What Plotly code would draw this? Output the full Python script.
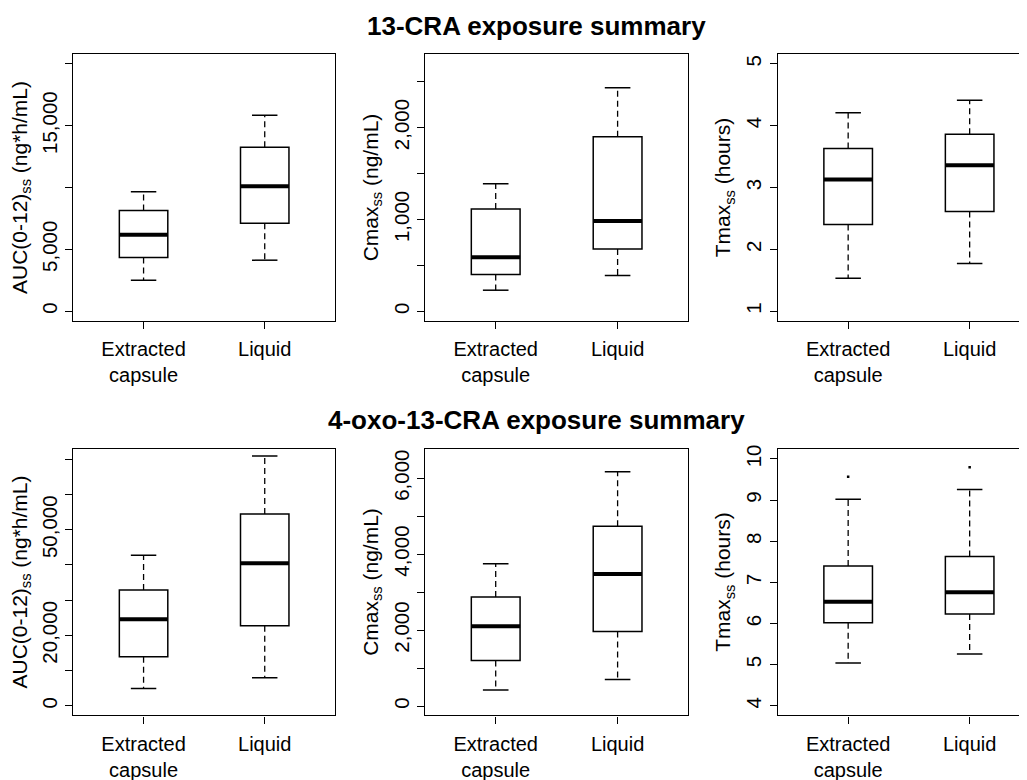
import plotly.graph_objects as go

# ---------------- data ----------------
CATEGORIES = ["Extracted<br>capsule", "Liquid"]
POSITIONS = [1, 2]

# 13-CRA
CRA_AUC_LOW = [2490, 4120]
CRA_AUC_Q1 = [4340, 7100]
CRA_AUC_MED = [6180, 10110]
CRA_AUC_Q3 = [8130, 13250]
CRA_AUC_HIGH = [9650, 15850]

CRA_CMAX_LOW = [231, 391]
CRA_CMAX_Q1 = [401, 680]
CRA_CMAX_MED = [590, 984]
CRA_CMAX_Q3 = [1114, 1899]
CRA_CMAX_HIGH = [1389, 2434]

CRA_TMAX_LOW = [1.53, 1.77]
CRA_TMAX_Q1 = [2.40, 2.61]
CRA_TMAX_MED = [3.13, 3.36]
CRA_TMAX_Q3 = [3.63, 3.86]
CRA_TMAX_HIGH = [4.21, 4.41]

# 4-oxo-13-CRA
OXO_AUC_LOW = [4920, 7950]
OXO_AUC_Q1 = [13900, 22700]
OXO_AUC_MED = [24600, 40500]
OXO_AUC_Q3 = [32900, 54500]
OXO_AUC_HIGH = [42760, 70960]

OXO_CMAX_LOW = [420, 700]
OXO_CMAX_Q1 = [1200, 1961]
OXO_CMAX_MED = [2102, 3476]
OXO_CMAX_Q3 = [2872, 4737]
OXO_CMAX_HIGH = [3748, 6173]

OXO_TMAX_LOW = [5.04, 5.26]
OXO_TMAX_Q1 = [6.02, 6.23]
OXO_TMAX_MED = [6.53, 6.76]
OXO_TMAX_Q3 = [7.40, 7.63]
OXO_TMAX_HIGH = [9.02, 9.26]
OXO_TMAX_OUTLIERS = [[9.57], [9.80]]

# y tick labels
AUC_CRA_TICKS = [0, 5000, 10000, 15000, 20000]
AUC_CRA_TEXT = ["0", "5,000", "", "15,000", ""]
CMAX_CRA_TICKS = [0, 500, 1000, 1500, 2000, 2500]
CMAX_CRA_TEXT = ["0", "", "1,000", "", "2,000", ""]
TMAX_CRA_TICKS = [1, 2, 3, 4, 5]
TMAX_CRA_TEXT = ["1", "2", "3", "4", "5"]
AUC_OXO_TICKS = [0, 10000, 20000, 30000, 40000, 50000, 60000, 70000]
AUC_OXO_TEXT = ["0", "", "20,000", "", "", "50,000", "", ""]
CMAX_OXO_TICKS = [0, 1000, 2000, 3000, 4000, 5000, 6000]
CMAX_OXO_TEXT = ["0", "", "2,000", "", "4,000", "", "6,000"]
TMAX_OXO_TICKS = [4, 5, 6, 7, 8, 9, 10]
TMAX_OXO_TEXT = ["4", "5", "6", "7", "8", "9", "10"]

AUC_TITLE = "AUC(0-12)<sub>ss</sub> (ng*h/mL)"
CMAX_TITLE = "Cmax<sub>ss</sub> (ng/mL)"
TMAX_TITLE = "Tmax<sub>ss</sub> (hours)"

TITLE_TOP = "<b>13-CRA exposure summary</b>"
TITLE_BOTTOM = "<b>4-oxo-13-CRA exposure summary</b>"

# ---------------- styling / layout ----------------
W, H = 1027, 780
OFF = 8  # page body margin of the html page
FONT = "Liberation Sans, Arial, sans-serif"
BOX_W = 0.4
CAP_HALF = 0.105

panels = [
    dict(low=CRA_AUC_LOW, q1=CRA_AUC_Q1, med=CRA_AUC_MED, q3=CRA_AUC_Q3, high=CRA_AUC_HIGH, out=None,
         ticks=AUC_CRA_TICKS, text=AUC_CRA_TEXT, title=AUC_TITLE, yr=[-800, 20800],
         xpx=(73.3, 335.0), ypx=(54, 321), xr=[0.42, 2.58], cut=False),
    dict(low=CRA_CMAX_LOW, q1=CRA_CMAX_Q1, med=CRA_CMAX_MED, q3=CRA_CMAX_Q3, high=CRA_CMAX_HIGH, out=None,
         ticks=CMAX_CRA_TICKS, text=CMAX_CRA_TEXT, title=CMAX_TITLE, yr=[-104, 2800],
         xpx=(425.0, 688.3), ypx=(54, 321), xr=[0.42, 2.58], cut=False),
    dict(low=CRA_TMAX_LOW, q1=CRA_TMAX_Q1, med=CRA_TMAX_MED, q3=CRA_TMAX_Q3, high=CRA_TMAX_HIGH, out=None,
         ticks=TMAX_CRA_TICKS, text=TMAX_CRA_TEXT, title=TMAX_TITLE, yr=[0.84, 5.16],
         xpx=(777.7, 1027.0), ypx=(54, 321), xr=[0.42, 2.472], cut=True),
    dict(low=OXO_AUC_LOW, q1=OXO_AUC_Q1, med=OXO_AUC_MED, q3=OXO_AUC_Q3, high=OXO_AUC_HIGH, out=None,
         ticks=AUC_OXO_TICKS, text=AUC_OXO_TEXT, title=AUC_TITLE, yr=[-2700, 73020],
         xpx=(73.3, 335.0), ypx=(448.7, 715.3), xr=[0.42, 2.58], cut=False),
    dict(low=OXO_CMAX_LOW, q1=OXO_CMAX_Q1, med=OXO_CMAX_MED, q3=OXO_CMAX_Q3, high=OXO_CMAX_HIGH, out=None,
         ticks=CMAX_OXO_TICKS, text=CMAX_OXO_TEXT, title=CMAX_TITLE, yr=[-245, 6778],
         xpx=(425.0, 688.3), ypx=(448.7, 715.3), xr=[0.42, 2.58], cut=False),
    dict(low=OXO_TMAX_LOW, q1=OXO_TMAX_Q1, med=OXO_TMAX_MED, q3=OXO_TMAX_Q3, high=OXO_TMAX_HIGH,
         out=OXO_TMAX_OUTLIERS,
         ticks=TMAX_OXO_TICKS, text=TMAX_OXO_TEXT, title=TMAX_TITLE, yr=[3.77, 10.25],
         xpx=(777.7, 1027.0), ypx=(448.7, 715.3), xr=[0.42, 2.472], cut=True),
]


def px_x(v):
    return (v - OFF) / W


def px_y(v):
    return 1 - (v - OFF) / H


fig = go.Figure()
layout = {}

for i, p in enumerate(panels, start=1):
    xa = "x" if i == 1 else f"x{i}"
    ya = "y" if i == 1 else f"y{i}"

    # box body (no whiskers; drawn separately as dashed lines)
    fig.add_trace(go.Box(
        x=POSITIONS, q1=p["q1"], median=p["med"], q3=p["q3"],
        lowerfence=p["q1"], upperfence=p["q3"],
        width=BOX_W, whiskerwidth=0,
        fillcolor="white", line=dict(color="black", width=1.5),
        boxpoints=False, showlegend=False, hoverinfo="skip",
        xaxis=xa, yaxis=ya,
    ))

    wx, wy = [], []
    cx, cy = [], []
    mx, my = [], []
    for k, pos in enumerate(POSITIONS):
        wx += [pos, pos, None, pos, pos, None]
        wy += [p["q3"][k], p["high"][k], None, p["q1"][k], p["low"][k], None]
        cx += [pos - CAP_HALF, pos + CAP_HALF, None, pos - CAP_HALF, pos + CAP_HALF, None]
        cy += [p["high"][k], p["high"][k], None, p["low"][k], p["low"][k], None]
        mx += [pos - BOX_W / 2, pos + BOX_W / 2, None]
        my += [p["med"][k], p["med"][k], None]

    fig.add_trace(go.Scatter(x=wx, y=wy, mode="lines",
                             line=dict(color="black", width=1.3, dash="6px,4px"),
                             showlegend=False, hoverinfo="skip", xaxis=xa, yaxis=ya))
    fig.add_trace(go.Scatter(x=cx, y=cy, mode="lines",
                             line=dict(color="black", width=1.5),
                             showlegend=False, hoverinfo="skip", xaxis=xa, yaxis=ya))
    fig.add_trace(go.Scatter(x=mx, y=my, mode="lines",
                             line=dict(color="black", width=4),
                             showlegend=False, hoverinfo="skip", xaxis=xa, yaxis=ya))

    if p["out"] is not None:
        ox, oy = [], []
        for k, pos in enumerate(POSITIONS):
            for v in p["out"][k]:
                ox.append(pos)
                oy.append(v)
        fig.add_trace(go.Scatter(x=ox, y=oy, mode="markers",
                                 marker=dict(color="black", size=2.5, symbol="square"),
                                 showlegend=False, hoverinfo="skip", xaxis=xa, yaxis=ya))

    x0, x1 = p["xpx"]
    y0, y1 = p["ypx"]
    kx = "xaxis" if i == 1 else f"xaxis{i}"
    ky = "yaxis" if i == 1 else f"yaxis{i}"
    layout[kx] = dict(
        domain=[px_x(x0), min(1.0, px_x(x1))], anchor=ya, range=p["xr"], automargin=False,
        tickmode="array", tickvals=POSITIONS, ticktext=CATEGORIES,
        ticks="outside", ticklen=7, tickwidth=1.2, tickcolor="black",
        showline=True, mirror=True, linecolor="black", linewidth=1.4,
        showgrid=False, zeroline=False, ticklabelstandoff=3,
        tickfont=dict(family=FONT, size=20, color="black"),
        fixedrange=True,
    )
    layout[ky] = dict(
        domain=[px_y(y1), px_y(y0)], anchor=xa, range=p["yr"], automargin=False,
        tickmode="array", tickvals=p["ticks"], ticktext=p["text"],
        ticks="outside", ticklen=7, tickwidth=1.2, tickcolor="black",
        tickangle=-90,
        showline=True, mirror=(not p["cut"]), linecolor="black", linewidth=1.4,
        showgrid=False, zeroline=False, ticklabelstandoff=0,
        tickfont=dict(family=FONT, size=20.5, color="black"),
        title=dict(text=p["title"], standoff=5, font=dict(family=FONT, size=21, color="black")),
        fixedrange=True,
    )

fig.update_layout(
    width=W, height=H,
    margin=dict(l=0, r=0, t=0, b=0, pad=0, autoexpand=False),
    paper_bgcolor="white", plot_bgcolor="white",
    font=dict(family=FONT, color="black"),
    showlegend=False,
    annotations=[
        dict(text=TITLE_TOP, x=px_x(536), y=px_y(26), xref="paper", yref="paper",
             xanchor="center", yanchor="middle", showarrow=False,
             font=dict(family=FONT, size=26, color="black")),
        dict(text=TITLE_BOTTOM, x=px_x(536), y=px_y(420), xref="paper", yref="paper",
             xanchor="center", yanchor="middle", showarrow=False,
             font=dict(family=FONT, size=26, color="black")),
    ],
    **layout,
)

fig.write_html("out.html")
